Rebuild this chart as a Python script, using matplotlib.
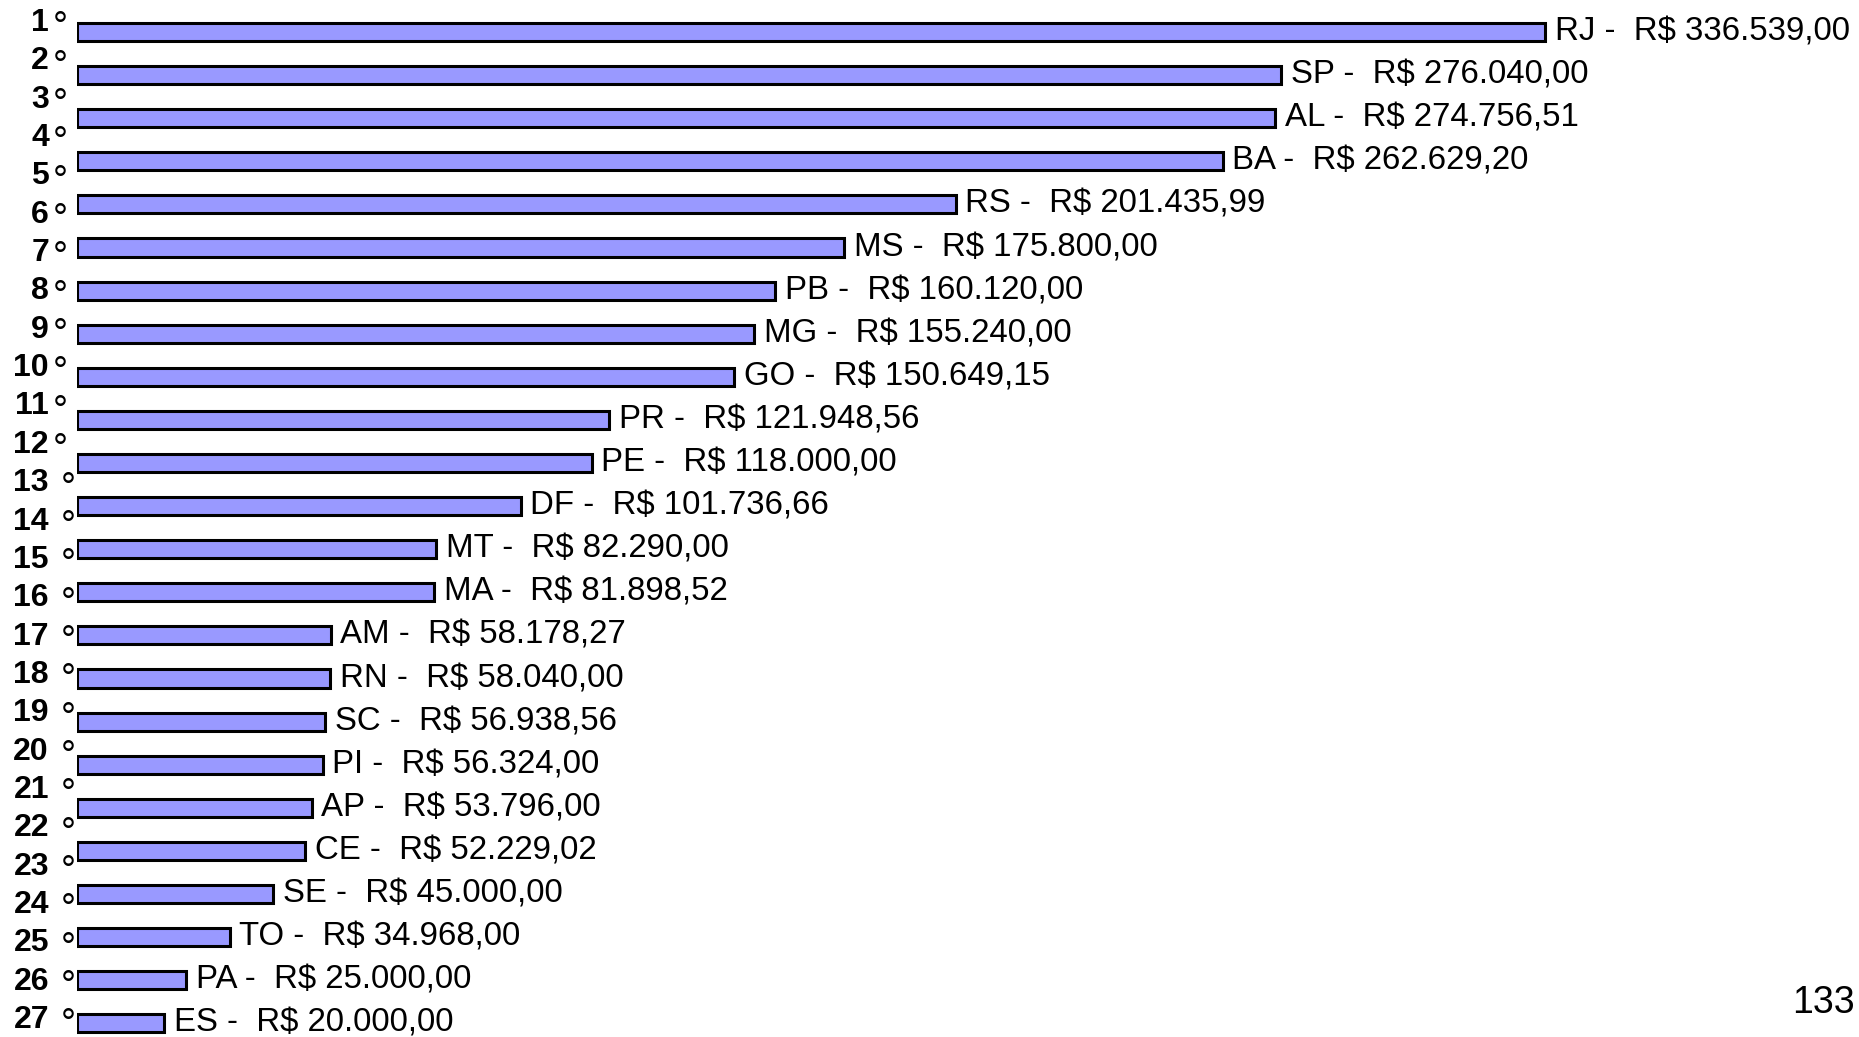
import matplotlib.pyplot as plt

# Ranking de valores por estado
estados = ['RJ', 'SP', 'AL', 'BA', 'RS', 'MS', 'PB', 'MG', 'GO', 'PR', 'PE', 'DF',
           'MT', 'MA', 'AM', 'RN', 'SC', 'PI', 'AP', 'CE', 'SE', 'TO', 'PA', 'ES']
valores = [336539.00, 276040.00, 274756.51, 262629.20, 201435.99, 175800.00,
           160120.00, 155240.00, 150649.15, 121948.56, 118000.00, 101736.66,
           82290.00, 81898.52, 58178.27, 58040.00, 56938.56, 56324.00,
           53796.00, 52229.02, 45000.00, 34968.00, 25000.00, 20000.00]
posicoes = list(range(1, 28))
pagina = '133'


def reais(v):
    s = f'{v:,.2f}'
    return s.replace(',', 'X').replace('.', ',').replace('X', '.')


plt.rcParams['font.family'] = ['Liberation Sans', 'DejaVu Sans']

W, H = 1859, 1037
fig = plt.figure(figsize=(W / 100, H / 100), dpi=100)

# eixo das barras: zero em x=77px, 1px = 1/0.004362 reais
x0 = 77
escala = 0.004362
ax = fig.add_axes([x0 / W, 0, 1 - x0 / W, 1])
ax.set_xlim(0, (W - x0) / escala)
passo = 43.1
ax.set_ylim((H - 32) / passo, -32 / passo)
ax.axis('off')

y = list(range(len(estados)))
ax.barh(y, valores, height=0.42, color='#9999FF', edgecolor='black', linewidth=2.2)
for yi, uf, v in zip(y, estados, valores):
    ax.annotate(f'{uf} -  R$ {reais(v)}', (v, yi), xytext=(7, 0),
                textcoords='offset points', va='center', ha='left',
                fontsize=23.8, color='black')

# coluna de posicoes (1° a 27°)
ax2 = fig.add_axes([0, 0, 1, 1])
ax2.set_xlim(0, W)
passo_r = 38.35
ax2.set_ylim((H - 23) / passo_r, -23 / passo_r)
ax2.axis('off')
ax2.patch.set_alpha(0)
for j, p in enumerate(posicoes):
    ax2.text(49, j, str(p), ha='right', va='center', fontsize=23,
             fontweight='bold')
    xg = 53 if p <= 12 else 61
    ax2.text(xg, j + 0.4, '°', ha='left', va='baseline', fontsize=27)

fig.text(1855 / W, 1 - 1003 / H, pagina, ha='right', va='center', fontsize=27)

plt.savefig('out.png', dpi=100)
